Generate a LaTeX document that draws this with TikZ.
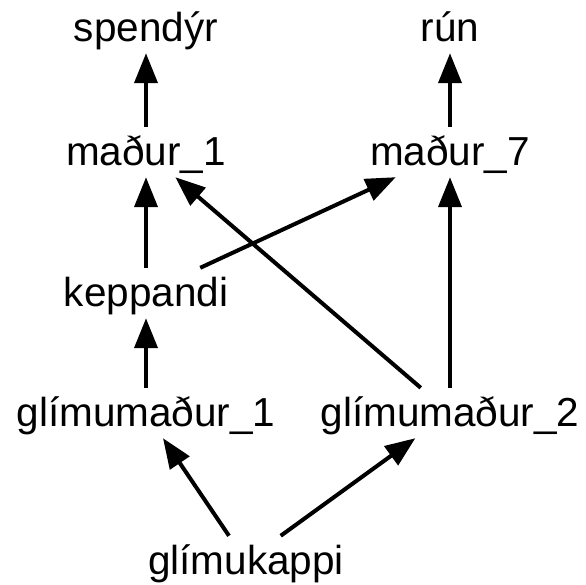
\documentclass[tikz,border=0pt]{standalone}
\usepackage{fontspec}
\setmainfont{Liberation Sans}
\usetikzlibrary{arrows.meta}
\tikzset{
  lbl/.style={font=\fontsize{40.5}{48}\selectfont, text height=38pt, text depth=12pt, inner xsep=2pt, inner ysep=0pt},
  arr/.style={line width=4pt, -{Triangle[length=30pt,width=23pt]}}
}
\begin{document}
\begin{tikzpicture}[x=1pt,y=-1pt]
\useasboundingbox (0,0) rectangle (586,584);
\node[lbl] (sp) at (146,28) {spendýr};
\node[lbl] (run) at (450,28) {rún};
\node[lbl] (m1) at (146,152) {maður\_1};
\node[lbl] (m7) at (450,152) {maður\_7};
\node[lbl] (kep) at (146,293) {keppandi};
\node[lbl] (g1) at (146,413) {glímumaður\_1};
\node[lbl] (g2) at (450,413) {glímumaður\_2};
\node[lbl] (gk) at (246,561) {glímukappi};
\draw[arr] (m1) -- (sp);
\draw[arr] (m7) -- (run);
\draw[arr] (kep) -- (m1);
\draw[arr] (kep) -- (m7);
\draw[arr] (g2) -- (m1);
\draw[arr] (g2) -- (m7);
\draw[arr] (g1) -- (kep);
\draw[arr] (gk) -- (g1);
\draw[arr] (gk) -- (g2);
\end{tikzpicture}
\end{document}
